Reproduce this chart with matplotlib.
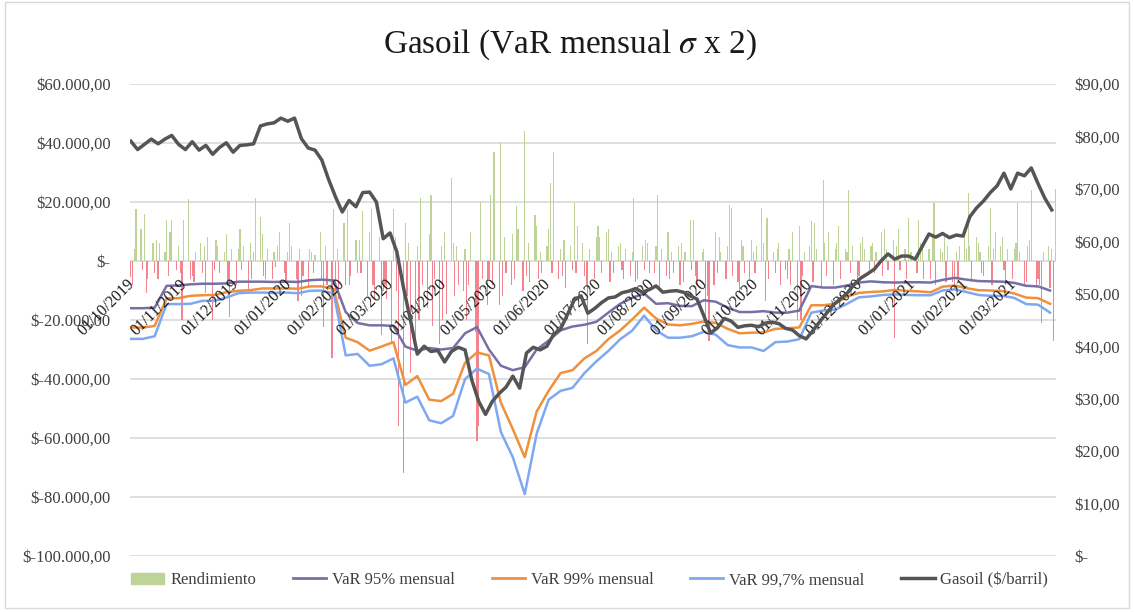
import numpy as np
import pandas as pd
import matplotlib.pyplot as plt
from matplotlib.ticker import FuncFormatter, MultipleLocator
from matplotlib.patches import Patch, Rectangle
from matplotlib.lines import Line2D

plt.rcParams['font.family'] = ['Liberation Serif', 'DejaVu Serif']
plt.rcParams['mathtext.fontset'] = 'stix'

# Rendimiento diario (miles de $), un bloque por mes (dias habiles)
rend_2019_10 = [-5.5, -8, 4, 17.5, 11, -3, 16, -11, -6, 6, -4, 7, -6, 6, 3, 14, -5, 10, 14, -3, 5, -4, -20]
rend_2019_11 = [14, 21, -6, -5, -7, 3, 6, -4, 5, -11, 8, -20, -3, 7, 5, -4, 3, 9, -8, -19, 4]
rend_2019_12 = [-8, 4, 11, -3, 5, -11, 6, -6, 3, 21.5, 15, 9, -5, -6, 4, -6, 3, -2, 5, 10, -4, -7]
rend_2020_01 = [3, 13, 5, -6, -13.5, 4, -12, -5, -9, 4, 3, -4, 2, 10, -6, -22.5, 5, -8, -33, 17.5, -10, 4, -13]
rend_2020_02 = [13, -8, 17.5, -8, -5, 7, -4, 7, -4, 17, -12, 10, 17.5, -8, -13, 8, -25, -10, -8, -13]
rend_2020_03 = [-28, 17.5, 8, -10, -56, -72, 13, -12, 6, -38, -30, 5, -20, 21.5, -8, -16, 9, 22.5, -22, -6, -28, 5]
rend_2020_04 = [-20, 10, -18, 28, 6, -12, 5, -8, -10, 4, -20, -8, 10, -24, -61, -56, 20, -6, -15, -6, 22.5, -8]
rend_2020_05 = [37, -15, 40.5, -12, 8, -4, -8, 9, -6, 18.5, 11, -10, 44, -5, 6, -7, 15.5, 12, -6, 3, -4]
rend_2020_06 = [5, 11, 26.5, -4, 37, -6, 4, -5, 7, -9, 5, -3, 19.5, -4, 12, 6, -5, -8, -28, 4, -6, 8]
rend_2020_07 = [12, 8, -4, 10, 11, -7, 3, -4, 5, 6, -3, -6, 4, -5, 3, 21.5, -7, -6, 5, -3, 7, 6, -4]
rend_2020_08 = [-4, 5, 22.5, -9, 4, -5, 10, -6, 3, -4, 5, -8, 6, -7, 3, 14, -3, 14, -5, -8, 3]
rend_2020_09 = [4, -20, -12, -27, -8, 10, -4, 8, 3, -6, 5, 19, 18, -5, -7, -11, 7, 5, -4, -6, 7, 3]
rend_2020_10 = [-4, 5, 18, 6, -13.5, 14.5, -6, 3, -4, 4, 6, -8, -3, -6, 4, -8, 10, -20, 12, -20, -5, 3]
rend_2020_11 = [5, 13.5, -7, 13, 4, -9, 27.5, 6, -5, 10, -8, 4, 6, 12, -6, 4, 3, 24, -4, 5, -8]
rend_2020_12 = [-5, 6, 8, 4, -3, 5, 6, -4, 3, 10, -5, 11, 4, -3, 7, -26, 5, 11, -3, 4, -6, 14.5, 3]
rend_2021_01 = [3, -4, 14, 6, 5, -6, 4, -6, 8, 19.5, -8, 4, 3, 8, -7, 5, -7, -9, 3, -6, 5]
rend_2021_02 = [9, 4, 23, 5, -7, 8, 6, 3, -4, -5, 5, 18, -8, 4, 10, 5, 8, -3, -8, 4]
rend_2021_03 = [-6, 4, 6, 19.5, 3, -8, -7, 5, 7, 24, -9, -6, -8, -21, 3, 5, -9, 4, -27, 24.5]

# VaR mensual (miles de $), un valor por semana desde 01/10/2019
var95_k = [-16.0, -16.0, -15.8, -8.4, -8.3, -7.9, -7.7, -7.7, -7.6, -7.0,
           -7.0, -7.0, -7.1, -7.0, -7.1, -6.5, -6.3, -6.6, -17.3, -21.0,
           -21.8, -21.8, -22.0, -29.0, -30.4, -29.5, -30.0, -29.5, -24.5, -22.4,
           -30.0, -35.5, -37.0, -36.0, -30.0, -27.0, -23.5, -22.2, -21.6, -20.6,
           -17.5, -14.5, -12.5, -11.0, -14.5, -14.3, -15.2, -15.3, -13.3, -13.8,
           -15.8, -17.3, -17.3, -17.0, -17.5, -17.5, -16.8, -8.5, -9.0, -9.0,
           -8.3, -7.3, -6.9, -7.2, -7.3, -7.2, -7.2, -7.3, -6.4, -5.7,
           -6.3, -6.8, -6.9, -7.0, -7.4, -8.4, -8.6, -10.0]
var99_k = [-22.5, -22.6, -22.0, -12.7, -12.6, -11.8, -11.6, -11.5, -10.6, -10.1,
           -9.9, -9.3, -9.3, -9.3, -9.4, -8.6, -8.6, -9.5, -26.0, -27.5,
           -30.4, -29.0, -27.5, -42.0, -39.0, -47.0, -47.5, -45.0, -34.5, -31.0,
           -32.0, -48.0, -57.0, -66.5, -51.0, -44.0, -38.0, -37.0, -33.0, -30.5,
           -26.5, -23.5, -19.8, -15.8, -19.5, -21.5, -21.8, -21.3, -20.5, -21.0,
           -23.0, -24.5, -24.3, -24.2, -23.0, -22.8, -22.5, -15.0, -15.0, -14.5,
           -12.0, -10.8, -10.5, -10.3, -9.8, -10.1, -10.3, -10.6, -8.7, -8.3,
           -9.2, -9.9, -10.0, -10.2, -11.0, -12.4, -12.6, -14.5]
var997_k = [-26.4, -26.4, -25.5, -14.6, -14.6, -14.5, -13.5, -13.5, -12.4, -10.9,
            -10.7, -10.7, -10.8, -10.7, -10.9, -10.1, -10.0, -11.0, -32.0, -31.5,
            -35.5, -35.0, -33.0, -48.0, -46.0, -54.0, -55.0, -52.5, -40.0, -36.5,
            -38.3, -58.0, -66.5, -79.0, -58.5, -47.0, -44.0, -43.0, -38.0, -34.0,
            -30.5, -26.5, -23.6, -18.5, -23.5, -26.0, -26.0, -25.5, -24.0, -25.0,
            -28.5, -29.3, -29.3, -30.5, -27.5, -27.3, -26.5, -17.5, -16.8, -16.5,
            -14.5, -12.3, -12.0, -11.5, -11.3, -11.5, -11.6, -11.6, -10.0, -9.6,
            -10.5, -11.5, -11.8, -11.8, -12.5, -14.6, -14.8, -17.5]

# Precio del gasoil ($/barril), cada 4 dias desde 01/10/2019
gasoil = [79.1, 77.5, 78.5, 79.5, 78.6, 79.5, 80.2, 78.5, 77.5, 79.0,
          77.4, 78.3, 76.6, 77.9, 78.8, 77.0, 78.3, 78.4, 78.6, 82.0,
          82.4, 82.6, 83.5, 82.9, 83.5, 79.6, 77.8, 77.4, 75.5, 71.8,
          68.5, 65.6, 67.8, 66.6, 69.3, 69.4, 67.5, 60.5, 61.6, 58.0,
          51.0, 45.0, 38.5, 40.0, 39.0, 39.2, 37.0, 39.0, 39.8, 39.3,
          33.5, 29.5, 27.0, 29.5, 31.0, 32.2, 34.3, 32.0, 38.7, 39.8,
          39.3, 40.0, 42.3, 43.3, 46.0, 48.8, 49.6, 46.3, 47.2, 48.3,
          49.2, 49.4, 50.2, 50.5, 51.0, 50.3, 50.8, 51.5, 50.3, 50.5,
          50.6, 50.3, 49.6, 49.0, 45.8, 42.5, 43.5, 45.3, 44.8, 43.6,
          43.9, 44.0, 43.7, 44.4, 44.6, 44.3, 43.4, 43.1, 42.0, 41.4,
          43.0, 44.7, 46.3, 47.9, 49.0, 50.1, 51.7, 53.0, 53.8, 54.7,
          56.3, 57.6, 56.6, 57.2, 57.2, 56.6, 59.0, 61.4, 60.8, 61.5,
          60.7, 61.2, 61.0, 64.7, 66.4, 67.7, 69.3, 70.6, 73.0, 70.0,
          73.0, 72.5, 74.0, 71.0, 68.2, 66.0]

meses = pd.date_range('2019-10-01', '2021-03-01', freq='MS')

rend_k = (rend_2019_10 + rend_2019_11 + rend_2019_12 + rend_2020_01 + rend_2020_02 +
          rend_2020_03 + rend_2020_04 + rend_2020_05 + rend_2020_06 + rend_2020_07 +
          rend_2020_08 + rend_2020_09 + rend_2020_10 + rend_2020_11 + rend_2020_12 +
          rend_2021_01 + rend_2021_02 + rend_2021_03)
dias = pd.bdate_range('2019-10-01', '2021-03-26')
assert len(dias) == len(rend_k), (len(dias), len(rend_k))
rend = np.array(rend_k) * 1000

fechas_var = pd.date_range('2019-10-01', periods=len(var95_k), freq='7D')
fechas_gas = pd.date_range('2019-10-01', periods=len(gasoil), freq='4D')

c_pos = '#BDD398'
c_neg = '#F2838F'
c_95 = '#7670A6'
c_99 = '#F0903C'
c_997 = '#7FA8F2'
c_gas = '#555555'

fig = plt.figure(figsize=(11.34, 6.12), dpi=100)
ax = fig.add_axes([0.1146, 0.0915, 0.8166, 0.7712])
ax2 = ax.twinx()

ax.bar(dias, rend, width=0.7, color=[c_pos if v >= 0 else c_neg for v in rend], zorder=2)
ax.plot(fechas_var, np.array(var95_k) * 1000, color=c_95, lw=1.8, zorder=3)
ax.plot(fechas_var, np.array(var99_k) * 1000, color=c_99, lw=1.8, zorder=3)
ax.plot(fechas_var, np.array(var997_k) * 1000, color=c_997, lw=1.8, zorder=3)
ax2.plot(fechas_gas, gasoil, color=c_gas, lw=2.5, zorder=4)

ax.set_xlim(pd.Timestamp('2019-09-30 12:00'), pd.Timestamp('2021-03-26 12:00'))
ax.set_ylim(-100000, 60000)
ax2.set_ylim(0, 90)
ax.yaxis.set_major_locator(MultipleLocator(20000))
ax2.yaxis.set_major_locator(MultipleLocator(10))


def usd(v, pos=None):
    if abs(v) < 1e-9:
        return '$-'
    s = f'{abs(v):,.2f}'.replace(',', 'X').replace('.', ',').replace('X', '.')
    return ('$-' if v < 0 else '$') + s


ax.yaxis.set_major_formatter(FuncFormatter(usd))
ax2.yaxis.set_major_formatter(FuncFormatter(usd))
ax.tick_params(axis='y', length=0, pad=14, labelsize=12, labelcolor='#404040')
ax2.tick_params(axis='y', length=0, pad=13, labelsize=12, labelcolor='#404040')
ax.grid(axis='y', color='#D9D9D9', lw=1.2, zorder=0)
ax.set_axisbelow(True)
ax.set_xticks([])
for a in (ax, ax2):
    for s in a.spines.values():
        s.set_visible(False)

# etiquetas de fecha sobre el eje cero
for m in meses:
    ax.annotate(m.strftime('%d/%m/%Y'), xy=(m, 0), xytext=(-3, -11), textcoords='offset points',
                rotation=45, rotation_mode='anchor', ha='right', va='top',
                fontsize=11.5, color='#1a1a1a', zorder=5)

fig.text(0.503, 0.927, r'Gasoil (VaR mensual $\sigma$ x 2)', ha='center', va='center',
         fontsize=24, color='#1a1a1a')

handles = [Patch(color=c_pos),
           Line2D([], [], color=c_95, lw=2),
           Line2D([], [], color=c_99, lw=2),
           Line2D([], [], color=c_997, lw=2),
           Line2D([], [], color=c_gas, lw=2.5)]
labels = ['Rendimiento', 'VaR 95% mensual', 'VaR 99% mensual', 'VaR 99,7% mensual',
          'Gasoil ($/barril)']
fig.legend(handles, labels, loc='center', bbox_to_anchor=(0.52, 0.052), ncol=5,
           frameon=False, fontsize=12, handlelength=2.0, handletextpad=0.35,
           columnspacing=2.2, labelcolor='#404040')

fig.patches.append(Rectangle((0.004, 0.006), 0.992, 0.99, transform=fig.transFigure,
                             fill=False, ec='#D9D9D9', lw=1))

fig.savefig('out.png', dpi=100)
